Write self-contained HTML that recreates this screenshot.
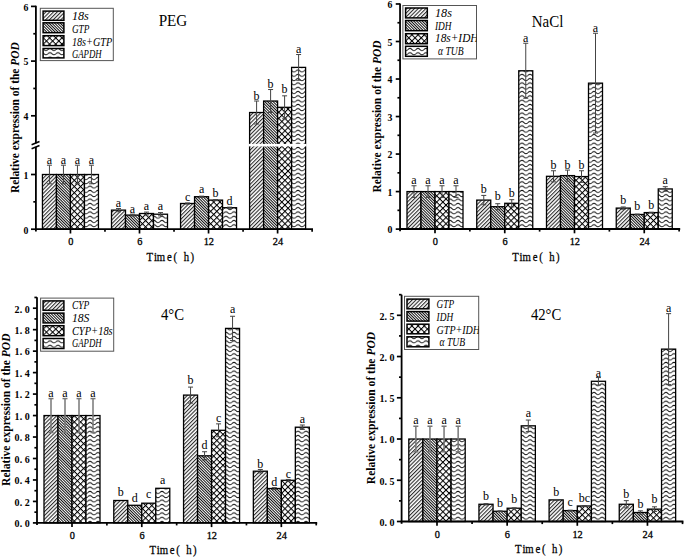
<!DOCTYPE html>
<html><head><meta charset="utf-8"><title>POD expression</title>
<style>
html,body{margin:0;padding:0;background:#fff;}
svg{display:block;font-family:"Liberation Serif", serif;}
</style></head>
<body>
<svg width="685" height="557" viewBox="0 0 685 557">

<defs>
<pattern id="p1" patternUnits="userSpaceOnUse" width="2.69" height="10" patternTransform="rotate(45)">
  <rect width="2.69" height="10" fill="#fff"/>
  <line x1="0.6" y1="0" x2="0.6" y2="10" stroke="#000" stroke-width="0.9"/>
</pattern>
<pattern id="p2" patternUnits="userSpaceOnUse" width="1.98" height="10" patternTransform="rotate(-45)">
  <rect width="1.98" height="10" fill="#fff"/>
  <line x1="0.5" y1="0" x2="0.5" y2="10" stroke="#000" stroke-width="0.95"/>
</pattern>
<pattern id="p3" patternUnits="userSpaceOnUse" width="4.38" height="4.38" patternTransform="rotate(45)">
  <rect width="4.38" height="4.38" fill="#fff"/>
  <line x1="0.5" y1="0" x2="0.5" y2="4.38" stroke="#000" stroke-width="1.05"/>
  <line x1="0" y1="0.5" x2="4.38" y2="0.5" stroke="#000" stroke-width="1.05"/>
</pattern>
<pattern id="p4" patternUnits="userSpaceOnUse" width="8" height="4.3">
  <rect width="8" height="4.3" fill="#fff"/>
  <path d="M0,2.2 C1.3,0.9 2.7,0.9 4,2.2 C5.3,3.5 6.7,3.5 8,2.2" fill="none" stroke="#111" stroke-width="0.95"/>
</pattern>
</defs>

<rect width="685" height="557" fill="#fff"/>
<rect x="42.45" y="174.5" width="14" height="54.7" fill="url(#p1)" stroke="#000" stroke-width="1.3" />
<rect x="56.45" y="174.5" width="14" height="54.7" fill="url(#p2)" stroke="#000" stroke-width="1.3" />
<rect x="70.45" y="174.5" width="14" height="54.7" fill="url(#p3)" stroke="#000" stroke-width="1.3" />
<rect x="84.45" y="174.5" width="14" height="54.7" fill="url(#p4)" stroke="#000" stroke-width="1.3" />
<line x1="49.45" y1="165.2" x2="49.45" y2="183.8" stroke="#444" stroke-width="1" />
<line x1="46.95" y1="165.2" x2="51.95" y2="165.2" stroke="#444" stroke-width="1" />
<line x1="46.95" y1="183.8" x2="51.95" y2="183.8" stroke="#444" stroke-width="1" />
<text x="49.45" y="164" font-size="12" text-anchor="middle" font-weight="normal" font-style="normal" fill="#000" >a</text>
<line x1="63.45" y1="165.2" x2="63.45" y2="183.8" stroke="#444" stroke-width="1" />
<line x1="60.95" y1="165.2" x2="65.95" y2="165.2" stroke="#444" stroke-width="1" />
<line x1="60.95" y1="183.8" x2="65.95" y2="183.8" stroke="#444" stroke-width="1" />
<text x="63.45" y="164" font-size="12" text-anchor="middle" font-weight="normal" font-style="normal" fill="#000" >a</text>
<line x1="77.45" y1="165.2" x2="77.45" y2="183.8" stroke="#444" stroke-width="1" />
<line x1="74.95" y1="165.2" x2="79.95" y2="165.2" stroke="#444" stroke-width="1" />
<line x1="74.95" y1="183.8" x2="79.95" y2="183.8" stroke="#444" stroke-width="1" />
<text x="77.45" y="164" font-size="12" text-anchor="middle" font-weight="normal" font-style="normal" fill="#000" >a</text>
<line x1="91.45" y1="165.2" x2="91.45" y2="183.8" stroke="#444" stroke-width="1" />
<line x1="88.95" y1="165.2" x2="93.95" y2="165.2" stroke="#444" stroke-width="1" />
<line x1="88.95" y1="183.8" x2="93.95" y2="183.8" stroke="#444" stroke-width="1" />
<text x="91.45" y="164" font-size="12" text-anchor="middle" font-weight="normal" font-style="normal" fill="#000" >a</text>
<rect x="111.5" y="210.11" width="14" height="19.09" fill="url(#p1)" stroke="#000" stroke-width="1.3" />
<rect x="125.5" y="215.09" width="14" height="14.11" fill="url(#p2)" stroke="#000" stroke-width="1.3" />
<rect x="139.5" y="213.5" width="14" height="15.7" fill="url(#p3)" stroke="#000" stroke-width="1.3" />
<rect x="153.5" y="214.21" width="14" height="14.99" fill="url(#p4)" stroke="#000" stroke-width="1.3" />
<line x1="118.5" y1="208.47" x2="118.5" y2="211.75" stroke="#444" stroke-width="1" />
<line x1="116" y1="208.47" x2="121" y2="208.47" stroke="#444" stroke-width="1" />
<line x1="116" y1="211.75" x2="121" y2="211.75" stroke="#444" stroke-width="1" />
<text x="118.5" y="206.5" font-size="12" text-anchor="middle" font-weight="normal" font-style="normal" fill="#000" >a</text>
<line x1="132.5" y1="214.16" x2="132.5" y2="216.02" stroke="#444" stroke-width="1" />
<line x1="130" y1="214.16" x2="135" y2="214.16" stroke="#444" stroke-width="1" />
<line x1="130" y1="216.02" x2="135" y2="216.02" stroke="#444" stroke-width="1" />
<text x="132.5" y="212.6" font-size="12" text-anchor="middle" font-weight="normal" font-style="normal" fill="#000" >a</text>
<line x1="146.5" y1="212.08" x2="146.5" y2="214.92" stroke="#444" stroke-width="1" />
<line x1="144" y1="212.08" x2="149" y2="212.08" stroke="#444" stroke-width="1" />
<line x1="144" y1="214.92" x2="149" y2="214.92" stroke="#444" stroke-width="1" />
<text x="146.5" y="209.8" font-size="12" text-anchor="middle" font-weight="normal" font-style="normal" fill="#000" >a</text>
<line x1="160.5" y1="212.57" x2="160.5" y2="215.85" stroke="#444" stroke-width="1" />
<line x1="158" y1="212.57" x2="163" y2="212.57" stroke="#444" stroke-width="1" />
<line x1="158" y1="215.85" x2="163" y2="215.85" stroke="#444" stroke-width="1" />
<text x="160.5" y="210.2" font-size="12" text-anchor="middle" font-weight="normal" font-style="normal" fill="#000" >a</text>
<rect x="180.55" y="203.49" width="14" height="25.71" fill="url(#p1)" stroke="#000" stroke-width="1.3" />
<rect x="194.55" y="196.71" width="14" height="32.49" fill="url(#p2)" stroke="#000" stroke-width="1.3" />
<rect x="208.55" y="200.1" width="14" height="29.1" fill="url(#p3)" stroke="#000" stroke-width="1.3" />
<rect x="222.55" y="207.7" width="14" height="21.5" fill="url(#p4)" stroke="#000" stroke-width="1.3" />
<line x1="187.55" y1="202.94" x2="187.55" y2="204.04" stroke="#444" stroke-width="1" />
<line x1="185.05" y1="202.94" x2="190.05" y2="202.94" stroke="#444" stroke-width="1" />
<line x1="185.05" y1="204.04" x2="190.05" y2="204.04" stroke="#444" stroke-width="1" />
<text x="187.55" y="200.7" font-size="12" text-anchor="middle" font-weight="normal" font-style="normal" fill="#000" >c</text>
<line x1="201.55" y1="196.16" x2="201.55" y2="197.26" stroke="#444" stroke-width="1" />
<line x1="199.05" y1="196.16" x2="204.05" y2="196.16" stroke="#444" stroke-width="1" />
<line x1="199.05" y1="197.26" x2="204.05" y2="197.26" stroke="#444" stroke-width="1" />
<text x="201.55" y="193.2" font-size="12" text-anchor="middle" font-weight="normal" font-style="normal" fill="#000" >a</text>
<line x1="215.55" y1="199.55" x2="215.55" y2="200.65" stroke="#444" stroke-width="1" />
<line x1="213.05" y1="199.55" x2="218.05" y2="199.55" stroke="#444" stroke-width="1" />
<line x1="213.05" y1="200.65" x2="218.05" y2="200.65" stroke="#444" stroke-width="1" />
<text x="215.55" y="197.4" font-size="12" text-anchor="middle" font-weight="normal" font-style="normal" fill="#000" >b</text>
<line x1="229.55" y1="207.16" x2="229.55" y2="208.25" stroke="#444" stroke-width="1" />
<line x1="227.05" y1="207.16" x2="232.05" y2="207.16" stroke="#444" stroke-width="1" />
<line x1="227.05" y1="208.25" x2="232.05" y2="208.25" stroke="#444" stroke-width="1" />
<text x="229.55" y="205.4" font-size="12" text-anchor="middle" font-weight="normal" font-style="normal" fill="#000" >d</text>
<rect x="249.6" y="112.52" width="14" height="116.68" fill="url(#p1)" stroke="#000" stroke-width="1.3" />
<rect x="263.6" y="101.03" width="14" height="128.17" fill="url(#p2)" stroke="#000" stroke-width="1.3" />
<rect x="277.6" y="107.32" width="14" height="121.88" fill="url(#p3)" stroke="#000" stroke-width="1.3" />
<rect x="291.6" y="67.39" width="14" height="161.81" fill="url(#p4)" stroke="#000" stroke-width="1.3" />
<rect x="248.6" y="143.9" width="16" height="2.5" fill="#fff" stroke="none" stroke-width="1" />
<rect x="262.6" y="143.9" width="16" height="2.5" fill="#fff" stroke="none" stroke-width="1" />
<rect x="276.6" y="143.9" width="16" height="2.5" fill="#fff" stroke="none" stroke-width="1" />
<rect x="290.6" y="143.9" width="16" height="2.5" fill="#fff" stroke="none" stroke-width="1" />
<line x1="256.6" y1="101.03" x2="256.6" y2="124.01" stroke="#444" stroke-width="1" />
<line x1="254.1" y1="101.03" x2="259.1" y2="101.03" stroke="#444" stroke-width="1" />
<line x1="254.1" y1="124.01" x2="259.1" y2="124.01" stroke="#444" stroke-width="1" />
<text x="256.6" y="99.6" font-size="12" text-anchor="middle" font-weight="normal" font-style="normal" fill="#000" >b</text>
<line x1="270.6" y1="89.54" x2="270.6" y2="112.52" stroke="#444" stroke-width="1" />
<line x1="268.1" y1="89.54" x2="273.1" y2="89.54" stroke="#444" stroke-width="1" />
<line x1="268.1" y1="112.52" x2="273.1" y2="112.52" stroke="#444" stroke-width="1" />
<text x="270.6" y="88.3" font-size="12" text-anchor="middle" font-weight="normal" font-style="normal" fill="#000" >b</text>
<line x1="284.6" y1="95.83" x2="284.6" y2="118.81" stroke="#444" stroke-width="1" />
<line x1="282.1" y1="95.83" x2="287.1" y2="95.83" stroke="#444" stroke-width="1" />
<line x1="282.1" y1="118.81" x2="287.1" y2="118.81" stroke="#444" stroke-width="1" />
<text x="284.6" y="93.2" font-size="12" text-anchor="middle" font-weight="normal" font-style="normal" fill="#000" >b</text>
<line x1="298.6" y1="54.54" x2="298.6" y2="80.25" stroke="#444" stroke-width="1" />
<line x1="296.1" y1="54.54" x2="301.1" y2="54.54" stroke="#444" stroke-width="1" />
<line x1="296.1" y1="80.25" x2="301.1" y2="80.25" stroke="#444" stroke-width="1" />
<text x="298.6" y="52.7" font-size="12" text-anchor="middle" font-weight="normal" font-style="normal" fill="#000" >a</text>
<line x1="35.9" y1="5.8" x2="35.9" y2="143.2" stroke="#000" stroke-width="1.8" />
<line x1="35.9" y1="147" x2="35.9" y2="231.5" stroke="#000" stroke-width="1.8" />
<line x1="31.6" y1="144.8" x2="39.5" y2="141.6" stroke="#000" stroke-width="1.6" />
<line x1="31.6" y1="148.7" x2="39.5" y2="145.5" stroke="#000" stroke-width="1.6" />
<line x1="31" y1="229.2" x2="35.9" y2="229.2" stroke="#000" stroke-width="1.7" />
<text x="28.4" y="233.5" font-size="9.8" text-anchor="end" font-weight="bold" font-style="normal" fill="#000" >0</text>
<line x1="31" y1="174.5" x2="35.9" y2="174.5" stroke="#000" stroke-width="1.7" />
<text x="28.4" y="178.8" font-size="9.8" text-anchor="end" font-weight="bold" font-style="normal" fill="#000" >1</text>
<line x1="31" y1="115.8" x2="35.9" y2="115.8" stroke="#000" stroke-width="1.7" />
<text x="28.4" y="120.1" font-size="9.8" text-anchor="end" font-weight="bold" font-style="normal" fill="#000" >4</text>
<line x1="31" y1="61.1" x2="35.9" y2="61.1" stroke="#000" stroke-width="1.7" />
<text x="28.4" y="65.4" font-size="9.8" text-anchor="end" font-weight="bold" font-style="normal" fill="#000" >5</text>
<line x1="31" y1="6.4" x2="35.9" y2="6.4" stroke="#000" stroke-width="1.7" />
<text x="28.4" y="10.7" font-size="9.8" text-anchor="end" font-weight="bold" font-style="normal" fill="#000" >6</text>
<line x1="33.3" y1="201.85" x2="35.9" y2="201.85" stroke="#000" stroke-width="1.7" />
<line x1="33.3" y1="88.45" x2="35.9" y2="88.45" stroke="#000" stroke-width="1.7" />
<line x1="33.3" y1="33.75" x2="35.9" y2="33.75" stroke="#000" stroke-width="1.7" />
<line x1="35" y1="229.2" x2="313" y2="229.2" stroke="#000" stroke-width="1.8" />
<line x1="70.45" y1="229.2" x2="70.45" y2="233.5" stroke="#000" stroke-width="1.7" />
<text x="70.75" y="244.9" font-size="10.3" text-anchor="middle" font-weight="normal" font-style="normal" fill="#000" stroke="#000" stroke-width="0.3">0</text>
<line x1="139.5" y1="229.2" x2="139.5" y2="233.5" stroke="#000" stroke-width="1.7" />
<text x="139.8" y="244.9" font-size="10.3" text-anchor="middle" font-weight="normal" font-style="normal" fill="#000" stroke="#000" stroke-width="0.3">6</text>
<line x1="208.55" y1="229.2" x2="208.55" y2="233.5" stroke="#000" stroke-width="1.7" />
<text x="208.85" y="244.9" font-size="10.3" text-anchor="middle" font-weight="normal" font-style="normal" fill="#000" stroke="#000" stroke-width="0.3">12</text>
<line x1="277.6" y1="229.2" x2="277.6" y2="233.5" stroke="#000" stroke-width="1.7" />
<text x="277.9" y="244.9" font-size="10.3" text-anchor="middle" font-weight="normal" font-style="normal" fill="#000" stroke="#000" stroke-width="0.3">24</text>
<line x1="104.97" y1="229.2" x2="104.97" y2="231.8" stroke="#000" stroke-width="1.7" />
<line x1="174.02" y1="229.2" x2="174.02" y2="231.8" stroke="#000" stroke-width="1.7" />
<line x1="243.07" y1="229.2" x2="243.07" y2="231.8" stroke="#000" stroke-width="1.7" />
<line x1="312.12" y1="229.2" x2="312.12" y2="231.8" stroke="#000" stroke-width="1.7" />
<text transform="scale(0.86,1)" x="174.13 180.7 187.15 197.03 203.9 216.69 223.6" y="260.6" font-size="12.5" text-anchor="middle" stroke="#000" stroke-width="0.25">Time(h)</text>
<text x="158.7" y="25.7" font-size="16" text-anchor="start" font-weight="normal" font-style="normal" fill="#000" textLength="28.6" lengthAdjust="spacingAndGlyphs" >PEG</text>
<rect x="40.3" y="8.3" width="73" height="52.3" fill="#fff" stroke="#555" stroke-width="1" />
<rect x="43.1" y="11.1" width="20.8" height="9.2" fill="url(#p1)" stroke="#000" stroke-width="1.5" />
<rect x="43.1" y="22.8" width="20.8" height="9.9" fill="url(#p2)" stroke="#000" stroke-width="1.5" />
<rect x="43.1" y="35.7" width="20.8" height="9.9" fill="url(#p3)" stroke="#000" stroke-width="1.5" />
<rect x="43.1" y="48.5" width="20.8" height="9.4" fill="url(#p4)" stroke="#000" stroke-width="1.5" />
<clipPath id="lc1"><rect x="40.3" y="8.3" width="73" height="52.3"/></clipPath>
<g clip-path="url(#lc1)">
<text x="71.9" y="19.8" font-size="11.8" text-anchor="start" font-weight="normal" font-style="italic" fill="#000" textLength="16.9" lengthAdjust="spacingAndGlyphs" >18s</text>
<text x="71.9" y="32.6" font-size="11.8" text-anchor="start" font-weight="normal" font-style="italic" fill="#000" textLength="17.5" lengthAdjust="spacingAndGlyphs" >GTP</text>
<text x="71.9" y="45.5" font-size="11.8" text-anchor="start" font-weight="normal" font-style="italic" fill="#000" textLength="40.3" lengthAdjust="spacingAndGlyphs" >18s+GTP</text>
<text x="71.9" y="57.7" font-size="11.8" text-anchor="start" font-weight="normal" font-style="italic" fill="#000" textLength="29.7" lengthAdjust="spacingAndGlyphs" >GAPDH</text>
</g>
<text transform="translate(19,193.1) rotate(-90)" x="0" y="0" font-size="12.4" font-weight="bold" textLength="150.9" lengthAdjust="spacingAndGlyphs">Relative expression of the <tspan font-style="italic">POD</tspan></text>
<rect x="407" y="191.58" width="14" height="37.42" fill="url(#p1)" stroke="#000" stroke-width="1.3" />
<rect x="421" y="191.58" width="14" height="37.42" fill="url(#p2)" stroke="#000" stroke-width="1.3" />
<rect x="435" y="191.58" width="14" height="37.42" fill="url(#p3)" stroke="#000" stroke-width="1.3" />
<rect x="449" y="191.58" width="14" height="37.42" fill="url(#p4)" stroke="#000" stroke-width="1.3" />
<line x1="414" y1="185.76" x2="414" y2="197.4" stroke="#444" stroke-width="1" />
<line x1="411.5" y1="185.76" x2="416.5" y2="185.76" stroke="#444" stroke-width="1" />
<line x1="411.5" y1="197.4" x2="416.5" y2="197.4" stroke="#444" stroke-width="1" />
<text x="414" y="184.2" font-size="12" text-anchor="middle" font-weight="normal" font-style="normal" fill="#000" >a</text>
<line x1="428" y1="185.76" x2="428" y2="197.4" stroke="#444" stroke-width="1" />
<line x1="425.5" y1="185.76" x2="430.5" y2="185.76" stroke="#444" stroke-width="1" />
<line x1="425.5" y1="197.4" x2="430.5" y2="197.4" stroke="#444" stroke-width="1" />
<text x="428" y="184.2" font-size="12" text-anchor="middle" font-weight="normal" font-style="normal" fill="#000" >a</text>
<line x1="442" y1="185.76" x2="442" y2="197.4" stroke="#444" stroke-width="1" />
<line x1="439.5" y1="185.76" x2="444.5" y2="185.76" stroke="#444" stroke-width="1" />
<line x1="439.5" y1="197.4" x2="444.5" y2="197.4" stroke="#444" stroke-width="1" />
<text x="442" y="184.2" font-size="12" text-anchor="middle" font-weight="normal" font-style="normal" fill="#000" >a</text>
<line x1="456" y1="185.76" x2="456" y2="197.4" stroke="#444" stroke-width="1" />
<line x1="453.5" y1="185.76" x2="458.5" y2="185.76" stroke="#444" stroke-width="1" />
<line x1="453.5" y1="197.4" x2="458.5" y2="197.4" stroke="#444" stroke-width="1" />
<text x="456" y="184.2" font-size="12" text-anchor="middle" font-weight="normal" font-style="normal" fill="#000" >a</text>
<rect x="476.75" y="200.1" width="14" height="28.9" fill="url(#p1)" stroke="#000" stroke-width="1.3" />
<rect x="490.75" y="206.7" width="14" height="22.3" fill="url(#p2)" stroke="#000" stroke-width="1.3" />
<rect x="504.75" y="203.29" width="14" height="25.71" fill="url(#p3)" stroke="#000" stroke-width="1.3" />
<rect x="518.75" y="70.77" width="14" height="158.23" fill="url(#p4)" stroke="#000" stroke-width="1.3" />
<line x1="483.75" y1="195.41" x2="483.75" y2="204.79" stroke="#444" stroke-width="1" />
<line x1="481.25" y1="195.41" x2="486.25" y2="195.41" stroke="#444" stroke-width="1" />
<line x1="481.25" y1="204.79" x2="486.25" y2="204.79" stroke="#444" stroke-width="1" />
<text x="483.75" y="193.4" font-size="12" text-anchor="middle" font-weight="normal" font-style="normal" fill="#000" >b</text>
<line x1="497.75" y1="203.7" x2="497.75" y2="209.7" stroke="#444" stroke-width="1" />
<line x1="495.25" y1="203.7" x2="500.25" y2="203.7" stroke="#444" stroke-width="1" />
<line x1="495.25" y1="209.7" x2="500.25" y2="209.7" stroke="#444" stroke-width="1" />
<text x="497.75" y="200.2" font-size="12" text-anchor="middle" font-weight="normal" font-style="normal" fill="#000" >b</text>
<line x1="511.75" y1="199.68" x2="511.75" y2="206.89" stroke="#444" stroke-width="1" />
<line x1="509.25" y1="199.68" x2="514.25" y2="199.68" stroke="#444" stroke-width="1" />
<line x1="509.25" y1="206.89" x2="514.25" y2="206.89" stroke="#444" stroke-width="1" />
<text x="511.75" y="196.8" font-size="12" text-anchor="middle" font-weight="normal" font-style="normal" fill="#000" >b</text>
<line x1="525.75" y1="43.26" x2="525.75" y2="98.27" stroke="#444" stroke-width="1" />
<line x1="523.25" y1="43.26" x2="528.25" y2="43.26" stroke="#444" stroke-width="1" />
<line x1="523.25" y1="98.27" x2="528.25" y2="98.27" stroke="#444" stroke-width="1" />
<text x="525.75" y="42.2" font-size="12" text-anchor="middle" font-weight="normal" font-style="normal" fill="#000" >a</text>
<rect x="546.5" y="176.31" width="14" height="52.69" fill="url(#p1)" stroke="#000" stroke-width="1.3" />
<rect x="560.5" y="175.6" width="14" height="53.4" fill="url(#p2)" stroke="#000" stroke-width="1.3" />
<rect x="574.5" y="176.57" width="14" height="52.43" fill="url(#p3)" stroke="#000" stroke-width="1.3" />
<rect x="588.5" y="83.15" width="14" height="145.85" fill="url(#p4)" stroke="#000" stroke-width="1.3" />
<line x1="553.5" y1="170.76" x2="553.5" y2="181.86" stroke="#444" stroke-width="1" />
<line x1="551" y1="170.76" x2="556" y2="170.76" stroke="#444" stroke-width="1" />
<line x1="551" y1="181.86" x2="556" y2="181.86" stroke="#444" stroke-width="1" />
<text x="553.5" y="169.2" font-size="12" text-anchor="middle" font-weight="normal" font-style="normal" fill="#000" >b</text>
<line x1="567.5" y1="170.08" x2="567.5" y2="181.11" stroke="#444" stroke-width="1" />
<line x1="565" y1="170.08" x2="570" y2="170.08" stroke="#444" stroke-width="1" />
<line x1="565" y1="181.11" x2="570" y2="181.11" stroke="#444" stroke-width="1" />
<text x="567.5" y="169.2" font-size="12" text-anchor="middle" font-weight="normal" font-style="normal" fill="#000" >b</text>
<line x1="581.5" y1="170.76" x2="581.5" y2="182.39" stroke="#444" stroke-width="1" />
<line x1="579" y1="170.76" x2="584" y2="170.76" stroke="#444" stroke-width="1" />
<line x1="579" y1="182.39" x2="584" y2="182.39" stroke="#444" stroke-width="1" />
<text x="581.5" y="169.2" font-size="12" text-anchor="middle" font-weight="normal" font-style="normal" fill="#000" >b</text>
<line x1="595.5" y1="33.25" x2="595.5" y2="133.05" stroke="#444" stroke-width="1" />
<line x1="593" y1="33.25" x2="598" y2="33.25" stroke="#444" stroke-width="1" />
<line x1="593" y1="133.05" x2="598" y2="133.05" stroke="#444" stroke-width="1" />
<text x="595.5" y="32.1" font-size="12" text-anchor="middle" font-weight="normal" font-style="normal" fill="#000" >a</text>
<rect x="616.25" y="208.09" width="14" height="20.91" fill="url(#p1)" stroke="#000" stroke-width="1.3" />
<rect x="630.25" y="214.47" width="14" height="14.53" fill="url(#p2)" stroke="#000" stroke-width="1.3" />
<rect x="644.25" y="212.59" width="14" height="16.41" fill="url(#p3)" stroke="#000" stroke-width="1.3" />
<rect x="658.25" y="188.95" width="14" height="40.05" fill="url(#p4)" stroke="#000" stroke-width="1.3" />
<line x1="623.25" y1="206.96" x2="623.25" y2="209.21" stroke="#444" stroke-width="1" />
<line x1="620.75" y1="206.96" x2="625.75" y2="206.96" stroke="#444" stroke-width="1" />
<line x1="620.75" y1="209.21" x2="625.75" y2="209.21" stroke="#444" stroke-width="1" />
<text x="623.25" y="203.6" font-size="12" text-anchor="middle" font-weight="normal" font-style="normal" fill="#000" >b</text>
<line x1="637.25" y1="214.09" x2="637.25" y2="214.84" stroke="#444" stroke-width="1" />
<line x1="634.75" y1="214.09" x2="639.75" y2="214.09" stroke="#444" stroke-width="1" />
<line x1="634.75" y1="214.84" x2="639.75" y2="214.84" stroke="#444" stroke-width="1" />
<text x="637.25" y="210" font-size="12" text-anchor="middle" font-weight="normal" font-style="normal" fill="#000" >b</text>
<line x1="651.25" y1="212.22" x2="651.25" y2="212.97" stroke="#444" stroke-width="1" />
<line x1="648.75" y1="212.22" x2="653.75" y2="212.22" stroke="#444" stroke-width="1" />
<line x1="648.75" y1="212.97" x2="653.75" y2="212.97" stroke="#444" stroke-width="1" />
<text x="651.25" y="209.3" font-size="12" text-anchor="middle" font-weight="normal" font-style="normal" fill="#000" >b</text>
<line x1="665.25" y1="186.7" x2="665.25" y2="191.2" stroke="#444" stroke-width="1" />
<line x1="662.75" y1="186.7" x2="667.75" y2="186.7" stroke="#444" stroke-width="1" />
<line x1="662.75" y1="191.2" x2="667.75" y2="191.2" stroke="#444" stroke-width="1" />
<text x="665.25" y="184.2" font-size="12" text-anchor="middle" font-weight="normal" font-style="normal" fill="#000" >a</text>
<line x1="400.05" y1="3.4" x2="400.05" y2="231.3" stroke="#000" stroke-width="1.8" />
<line x1="395.75" y1="229.1" x2="400.05" y2="229.1" stroke="#000" stroke-width="1.7" />
<text x="392.5" y="233.4" font-size="9.8" text-anchor="end" font-weight="bold" font-style="normal" fill="#000" >0</text>
<line x1="395.75" y1="191.58" x2="400.05" y2="191.58" stroke="#000" stroke-width="1.7" />
<text x="392.5" y="195.88" font-size="9.8" text-anchor="end" font-weight="bold" font-style="normal" fill="#000" >1</text>
<line x1="395.75" y1="154.06" x2="400.05" y2="154.06" stroke="#000" stroke-width="1.7" />
<text x="392.5" y="158.36" font-size="9.8" text-anchor="end" font-weight="bold" font-style="normal" fill="#000" >2</text>
<line x1="395.75" y1="116.54" x2="400.05" y2="116.54" stroke="#000" stroke-width="1.7" />
<text x="392.5" y="120.84" font-size="9.8" text-anchor="end" font-weight="bold" font-style="normal" fill="#000" >3</text>
<line x1="395.75" y1="79.02" x2="400.05" y2="79.02" stroke="#000" stroke-width="1.7" />
<text x="392.5" y="83.32" font-size="9.8" text-anchor="end" font-weight="bold" font-style="normal" fill="#000" >4</text>
<line x1="395.75" y1="41.5" x2="400.05" y2="41.5" stroke="#000" stroke-width="1.7" />
<text x="392.5" y="45.8" font-size="9.8" text-anchor="end" font-weight="bold" font-style="normal" fill="#000" >5</text>
<line x1="395.75" y1="3.98" x2="400.05" y2="3.98" stroke="#000" stroke-width="1.7" />
<text x="392.5" y="8.28" font-size="9.8" text-anchor="end" font-weight="bold" font-style="normal" fill="#000" >6</text>
<line x1="397.45" y1="210.34" x2="400.05" y2="210.34" stroke="#000" stroke-width="1.7" />
<line x1="397.45" y1="172.82" x2="400.05" y2="172.82" stroke="#000" stroke-width="1.7" />
<line x1="397.45" y1="135.3" x2="400.05" y2="135.3" stroke="#000" stroke-width="1.7" />
<line x1="397.45" y1="97.78" x2="400.05" y2="97.78" stroke="#000" stroke-width="1.7" />
<line x1="397.45" y1="60.26" x2="400.05" y2="60.26" stroke="#000" stroke-width="1.7" />
<line x1="397.45" y1="22.74" x2="400.05" y2="22.74" stroke="#000" stroke-width="1.7" />
<line x1="399.15" y1="229" x2="680.2" y2="229" stroke="#000" stroke-width="1.8" />
<line x1="435" y1="229" x2="435" y2="233.3" stroke="#000" stroke-width="1.7" />
<text x="435.3" y="244.9" font-size="10.3" text-anchor="middle" font-weight="normal" font-style="normal" fill="#000" stroke="#000" stroke-width="0.3">0</text>
<line x1="504.75" y1="229" x2="504.75" y2="233.3" stroke="#000" stroke-width="1.7" />
<text x="505.05" y="244.9" font-size="10.3" text-anchor="middle" font-weight="normal" font-style="normal" fill="#000" stroke="#000" stroke-width="0.3">6</text>
<line x1="574.5" y1="229" x2="574.5" y2="233.3" stroke="#000" stroke-width="1.7" />
<text x="574.8" y="244.9" font-size="10.3" text-anchor="middle" font-weight="normal" font-style="normal" fill="#000" stroke="#000" stroke-width="0.3">12</text>
<line x1="644.25" y1="229" x2="644.25" y2="233.3" stroke="#000" stroke-width="1.7" />
<text x="644.55" y="244.9" font-size="10.3" text-anchor="middle" font-weight="normal" font-style="normal" fill="#000" stroke="#000" stroke-width="0.3">24</text>
<line x1="469.88" y1="229" x2="469.88" y2="231.6" stroke="#000" stroke-width="1.7" />
<line x1="539.62" y1="229" x2="539.62" y2="231.6" stroke="#000" stroke-width="1.7" />
<line x1="609.38" y1="229" x2="609.38" y2="231.6" stroke="#000" stroke-width="1.7" />
<line x1="679.12" y1="229" x2="679.12" y2="231.6" stroke="#000" stroke-width="1.7" />
<text transform="scale(0.86,1)" x="599.35 605.91 612.35 622.21 629.06 641.82 648.73" y="260.6" font-size="12.5" text-anchor="middle" stroke="#000" stroke-width="0.25">Time(h)</text>
<text x="531.8" y="26.7" font-size="16" text-anchor="start" font-weight="normal" font-style="normal" fill="#000" textLength="31.6" lengthAdjust="spacingAndGlyphs" >NaCl</text>
<rect x="402.9" y="5.5" width="73.6" height="53.4" fill="#fff" stroke="#555" stroke-width="1" />
<rect x="405.6" y="8" width="21.7" height="9.9" fill="url(#p1)" stroke="#000" stroke-width="1.5" />
<rect x="405.6" y="20.5" width="21.7" height="10.2" fill="url(#p2)" stroke="#000" stroke-width="1.5" />
<rect x="405.6" y="33.7" width="21.7" height="10" fill="url(#p3)" stroke="#000" stroke-width="1.5" />
<rect x="405.6" y="46.3" width="21.7" height="10" fill="url(#p4)" stroke="#000" stroke-width="1.5" />
<clipPath id="lc2"><rect x="402.9" y="5.5" width="73.6" height="53.4"/></clipPath>
<g clip-path="url(#lc2)">
<text x="435" y="17.2" font-size="11.8" text-anchor="start" font-weight="normal" font-style="italic" fill="#000" textLength="16.9" lengthAdjust="spacingAndGlyphs" >18s</text>
<text x="435" y="30" font-size="11.8" text-anchor="start" font-weight="normal" font-style="italic" fill="#000" textLength="16.5" lengthAdjust="spacingAndGlyphs" >IDH</text>
<text x="435" y="42.3" font-size="11.8" text-anchor="start" font-weight="normal" font-style="italic" fill="#000" textLength="43.5" lengthAdjust="spacingAndGlyphs" >18s+IDH</text>
<text x="438" y="54.6" font-size="11.8" text-anchor="start" font-weight="normal" font-style="italic" fill="#000" textLength="25.5" lengthAdjust="spacingAndGlyphs" >&#945; TUB</text>
</g>
<text transform="translate(380.5,192.6) rotate(-90)" x="0" y="0" font-size="12.4" font-weight="bold" textLength="152.2" lengthAdjust="spacingAndGlyphs">Relative expression of the <tspan font-style="italic">POD</tspan></text>
<rect x="44" y="415.55" width="14" height="107.25" fill="url(#p1)" stroke="#000" stroke-width="1.3" />
<rect x="58" y="415.55" width="14" height="107.25" fill="url(#p2)" stroke="#000" stroke-width="1.3" />
<rect x="72" y="415.55" width="14" height="107.25" fill="url(#p3)" stroke="#000" stroke-width="1.3" />
<rect x="86" y="415.55" width="14" height="107.25" fill="url(#p4)" stroke="#000" stroke-width="1.3" />
<line x1="51" y1="398.59" x2="51" y2="432.51" stroke="#777" stroke-width="1.5" />
<line x1="48.5" y1="398.59" x2="53.5" y2="398.59" stroke="#777" stroke-width="1.5" />
<line x1="48.5" y1="432.51" x2="53.5" y2="432.51" stroke="#777" stroke-width="1.5" />
<text x="51" y="396.5" font-size="12" text-anchor="middle" font-weight="normal" font-style="normal" fill="#000" >a</text>
<line x1="65" y1="398.59" x2="65" y2="432.51" stroke="#777" stroke-width="1.5" />
<line x1="62.5" y1="398.59" x2="67.5" y2="398.59" stroke="#777" stroke-width="1.5" />
<line x1="62.5" y1="432.51" x2="67.5" y2="432.51" stroke="#777" stroke-width="1.5" />
<text x="65" y="396.5" font-size="12" text-anchor="middle" font-weight="normal" font-style="normal" fill="#000" >a</text>
<line x1="79" y1="398.59" x2="79" y2="432.51" stroke="#777" stroke-width="1.5" />
<line x1="76.5" y1="398.59" x2="81.5" y2="398.59" stroke="#777" stroke-width="1.5" />
<line x1="76.5" y1="432.51" x2="81.5" y2="432.51" stroke="#777" stroke-width="1.5" />
<text x="79" y="396.5" font-size="12" text-anchor="middle" font-weight="normal" font-style="normal" fill="#000" >a</text>
<line x1="93" y1="398.59" x2="93" y2="432.51" stroke="#777" stroke-width="1.5" />
<line x1="90.5" y1="398.59" x2="95.5" y2="398.59" stroke="#777" stroke-width="1.5" />
<line x1="90.5" y1="432.51" x2="95.5" y2="432.51" stroke="#777" stroke-width="1.5" />
<text x="93" y="396.5" font-size="12" text-anchor="middle" font-weight="normal" font-style="normal" fill="#000" >a</text>
<rect x="113.78" y="500.5" width="14" height="22.3" fill="url(#p1)" stroke="#000" stroke-width="1.3" />
<rect x="127.78" y="505.29" width="14" height="17.51" fill="url(#p2)" stroke="#000" stroke-width="1.3" />
<rect x="141.78" y="503.2" width="14" height="19.6" fill="url(#p3)" stroke="#000" stroke-width="1.3" />
<rect x="155.78" y="488.3" width="14" height="34.5" fill="url(#p4)" stroke="#000" stroke-width="1.3" />
<text x="120.78" y="496.2" font-size="12" text-anchor="middle" font-weight="normal" font-style="normal" fill="#000" >b</text>
<text x="134.78" y="501.6" font-size="12" text-anchor="middle" font-weight="normal" font-style="normal" fill="#000" >d</text>
<text x="148.78" y="498.3" font-size="12" text-anchor="middle" font-weight="normal" font-style="normal" fill="#000" >c</text>
<text x="162.78" y="483.8" font-size="12" text-anchor="middle" font-weight="normal" font-style="normal" fill="#000" >a</text>
<rect x="183.56" y="395.1" width="14" height="127.7" fill="url(#p1)" stroke="#000" stroke-width="1.3" />
<rect x="197.56" y="455.81" width="14" height="66.99" fill="url(#p2)" stroke="#000" stroke-width="1.3" />
<rect x="211.56" y="430.3" width="14" height="92.5" fill="url(#p3)" stroke="#000" stroke-width="1.3" />
<rect x="225.56" y="328.4" width="14" height="194.4" fill="url(#p4)" stroke="#000" stroke-width="1.3" />
<line x1="190.56" y1="387.1" x2="190.56" y2="403.1" stroke="#444" stroke-width="1" />
<line x1="188.06" y1="387.1" x2="193.06" y2="387.1" stroke="#444" stroke-width="1" />
<line x1="188.06" y1="403.1" x2="193.06" y2="403.1" stroke="#444" stroke-width="1" />
<text x="190.56" y="384.2" font-size="12" text-anchor="middle" font-weight="normal" font-style="normal" fill="#000" >b</text>
<line x1="204.56" y1="451.73" x2="204.56" y2="459.89" stroke="#444" stroke-width="1" />
<line x1="202.06" y1="451.73" x2="207.06" y2="451.73" stroke="#444" stroke-width="1" />
<line x1="202.06" y1="459.89" x2="207.06" y2="459.89" stroke="#444" stroke-width="1" />
<text x="204.56" y="448.8" font-size="12" text-anchor="middle" font-weight="normal" font-style="normal" fill="#000" >d</text>
<line x1="218.56" y1="423.86" x2="218.56" y2="436.74" stroke="#444" stroke-width="1" />
<line x1="216.06" y1="423.86" x2="221.06" y2="423.86" stroke="#444" stroke-width="1" />
<line x1="216.06" y1="436.74" x2="221.06" y2="436.74" stroke="#444" stroke-width="1" />
<text x="218.56" y="421.9" font-size="12" text-anchor="middle" font-weight="normal" font-style="normal" fill="#000" >c</text>
<line x1="232.56" y1="316.27" x2="232.56" y2="340.53" stroke="#444" stroke-width="1" />
<line x1="230.06" y1="316.27" x2="235.06" y2="316.27" stroke="#444" stroke-width="1" />
<line x1="230.06" y1="340.53" x2="235.06" y2="340.53" stroke="#444" stroke-width="1" />
<text x="232.56" y="312.6" font-size="12" text-anchor="middle" font-weight="normal" font-style="normal" fill="#000" >a</text>
<rect x="253.34" y="471.2" width="14" height="51.6" fill="url(#p1)" stroke="#000" stroke-width="1.3" />
<rect x="267.34" y="488.51" width="14" height="34.29" fill="url(#p2)" stroke="#000" stroke-width="1.3" />
<rect x="281.34" y="480.3" width="14" height="42.5" fill="url(#p3)" stroke="#000" stroke-width="1.3" />
<rect x="295.34" y="427.2" width="14" height="95.6" fill="url(#p4)" stroke="#000" stroke-width="1.3" />
<line x1="260.34" y1="469.48" x2="260.34" y2="472.92" stroke="#444" stroke-width="1" />
<line x1="257.84" y1="469.48" x2="262.84" y2="469.48" stroke="#444" stroke-width="1" />
<line x1="257.84" y1="472.92" x2="262.84" y2="472.92" stroke="#444" stroke-width="1" />
<text x="260.34" y="467.9" font-size="12" text-anchor="middle" font-weight="normal" font-style="normal" fill="#000" >b</text>
<line x1="274.34" y1="487.65" x2="274.34" y2="489.36" stroke="#444" stroke-width="1" />
<line x1="271.84" y1="487.65" x2="276.84" y2="487.65" stroke="#444" stroke-width="1" />
<line x1="271.84" y1="489.36" x2="276.84" y2="489.36" stroke="#444" stroke-width="1" />
<text x="274.34" y="485.8" font-size="12" text-anchor="middle" font-weight="normal" font-style="normal" fill="#000" >d</text>
<line x1="288.34" y1="479.44" x2="288.34" y2="481.16" stroke="#444" stroke-width="1" />
<line x1="285.84" y1="479.44" x2="290.84" y2="479.44" stroke="#444" stroke-width="1" />
<line x1="285.84" y1="481.16" x2="290.84" y2="481.16" stroke="#444" stroke-width="1" />
<text x="288.34" y="477.9" font-size="12" text-anchor="middle" font-weight="normal" font-style="normal" fill="#000" >c</text>
<line x1="302.34" y1="425" x2="302.34" y2="429.4" stroke="#444" stroke-width="1" />
<line x1="299.84" y1="425" x2="304.84" y2="425" stroke="#444" stroke-width="1" />
<line x1="299.84" y1="429.4" x2="304.84" y2="429.4" stroke="#444" stroke-width="1" />
<text x="302.34" y="423.1" font-size="12" text-anchor="middle" font-weight="normal" font-style="normal" fill="#000" >a</text>
<line x1="37" y1="297.2" x2="37" y2="525.1" stroke="#000" stroke-width="1.8" />
<line x1="32.9" y1="522.9" x2="37" y2="522.9" stroke="#000" stroke-width="1.7" />
<text x="17.1 20.9 27.15" y="527.2" font-size="10" text-anchor="middle" font-weight="bold">0.0</text>
<line x1="32.9" y1="501.43" x2="37" y2="501.43" stroke="#000" stroke-width="1.7" />
<text x="17.1 20.9 27.15" y="505.73" font-size="10" text-anchor="middle" font-weight="bold">0.2</text>
<line x1="32.9" y1="479.96" x2="37" y2="479.96" stroke="#000" stroke-width="1.7" />
<text x="17.1 20.9 27.15" y="484.26" font-size="10" text-anchor="middle" font-weight="bold">0.4</text>
<line x1="32.9" y1="458.49" x2="37" y2="458.49" stroke="#000" stroke-width="1.7" />
<text x="17.1 20.9 27.15" y="462.79" font-size="10" text-anchor="middle" font-weight="bold">0.6</text>
<line x1="32.9" y1="437.02" x2="37" y2="437.02" stroke="#000" stroke-width="1.7" />
<text x="17.1 20.9 27.15" y="441.32" font-size="10" text-anchor="middle" font-weight="bold">0.8</text>
<line x1="32.9" y1="415.55" x2="37" y2="415.55" stroke="#000" stroke-width="1.7" />
<text x="17.1 20.9 27.15" y="419.85" font-size="10" text-anchor="middle" font-weight="bold">1.0</text>
<line x1="32.9" y1="394.08" x2="37" y2="394.08" stroke="#000" stroke-width="1.7" />
<text x="17.1 20.9 27.15" y="398.38" font-size="10" text-anchor="middle" font-weight="bold">1.2</text>
<line x1="32.9" y1="372.61" x2="37" y2="372.61" stroke="#000" stroke-width="1.7" />
<text x="17.1 20.9 27.15" y="376.91" font-size="10" text-anchor="middle" font-weight="bold">1.4</text>
<line x1="32.9" y1="351.14" x2="37" y2="351.14" stroke="#000" stroke-width="1.7" />
<text x="17.1 20.9 27.15" y="355.44" font-size="10" text-anchor="middle" font-weight="bold">1.6</text>
<line x1="32.9" y1="329.67" x2="37" y2="329.67" stroke="#000" stroke-width="1.7" />
<text x="17.1 20.9 27.15" y="333.97" font-size="10" text-anchor="middle" font-weight="bold">1.8</text>
<line x1="32.9" y1="308.2" x2="37" y2="308.2" stroke="#000" stroke-width="1.7" />
<text x="17.1 20.9 27.15" y="312.5" font-size="10" text-anchor="middle" font-weight="bold">2.0</text>
<line x1="34.4" y1="512.16" x2="37" y2="512.16" stroke="#000" stroke-width="1.7" />
<line x1="34.4" y1="490.69" x2="37" y2="490.69" stroke="#000" stroke-width="1.7" />
<line x1="34.4" y1="469.22" x2="37" y2="469.22" stroke="#000" stroke-width="1.7" />
<line x1="34.4" y1="447.75" x2="37" y2="447.75" stroke="#000" stroke-width="1.7" />
<line x1="34.4" y1="426.28" x2="37" y2="426.28" stroke="#000" stroke-width="1.7" />
<line x1="34.4" y1="404.81" x2="37" y2="404.81" stroke="#000" stroke-width="1.7" />
<line x1="34.4" y1="383.34" x2="37" y2="383.34" stroke="#000" stroke-width="1.7" />
<line x1="34.4" y1="361.88" x2="37" y2="361.88" stroke="#000" stroke-width="1.7" />
<line x1="34.4" y1="340.4" x2="37" y2="340.4" stroke="#000" stroke-width="1.7" />
<line x1="34.4" y1="318.93" x2="37" y2="318.93" stroke="#000" stroke-width="1.7" />
<line x1="34.4" y1="297.46" x2="37" y2="297.46" stroke="#000" stroke-width="1.7" />
<line x1="36.1" y1="522.8" x2="317.2" y2="522.8" stroke="#000" stroke-width="1.8" />
<line x1="72" y1="522.8" x2="72" y2="527.1" stroke="#000" stroke-width="1.7" />
<text x="72.3" y="538.5" font-size="10.3" text-anchor="middle" font-weight="normal" font-style="normal" fill="#000" stroke="#000" stroke-width="0.3">0</text>
<line x1="141.78" y1="522.8" x2="141.78" y2="527.1" stroke="#000" stroke-width="1.7" />
<text x="142.08" y="538.5" font-size="10.3" text-anchor="middle" font-weight="normal" font-style="normal" fill="#000" stroke="#000" stroke-width="0.3">6</text>
<line x1="211.56" y1="522.8" x2="211.56" y2="527.1" stroke="#000" stroke-width="1.7" />
<text x="211.86" y="538.5" font-size="10.3" text-anchor="middle" font-weight="normal" font-style="normal" fill="#000" stroke="#000" stroke-width="0.3">12</text>
<line x1="281.34" y1="522.8" x2="281.34" y2="527.1" stroke="#000" stroke-width="1.7" />
<text x="281.64" y="538.5" font-size="10.3" text-anchor="middle" font-weight="normal" font-style="normal" fill="#000" stroke="#000" stroke-width="0.3">24</text>
<line x1="106.89" y1="522.8" x2="106.89" y2="525.4" stroke="#000" stroke-width="1.7" />
<line x1="176.67" y1="522.8" x2="176.67" y2="525.4" stroke="#000" stroke-width="1.7" />
<line x1="246.45" y1="522.8" x2="246.45" y2="525.4" stroke="#000" stroke-width="1.7" />
<line x1="316.23" y1="522.8" x2="316.23" y2="525.4" stroke="#000" stroke-width="1.7" />
<text transform="scale(0.86,1)" x="177.58 184.1 190.5 200.3 207.1 219.79 226.65" y="553.6" font-size="12.5" text-anchor="middle" stroke="#000" stroke-width="0.25">Time(h)</text>
<text x="160.9" y="319.5" font-size="16" text-anchor="start" font-weight="normal" font-style="normal" fill="#000" textLength="23.1" lengthAdjust="spacingAndGlyphs" >4&#176;C</text>
<rect x="40.6" y="298.1" width="73.1" height="53.1" fill="#fff" stroke="#555" stroke-width="1" />
<rect x="43.1" y="300.9" width="20.8" height="9.4" fill="url(#p1)" stroke="#000" stroke-width="1.5" />
<rect x="43.1" y="313.1" width="20.8" height="9.8" fill="url(#p2)" stroke="#000" stroke-width="1.5" />
<rect x="43.1" y="325.7" width="20.8" height="10" fill="url(#p3)" stroke="#000" stroke-width="1.5" />
<rect x="43.1" y="338.5" width="20.8" height="10" fill="url(#p4)" stroke="#000" stroke-width="1.5" />
<clipPath id="lc3"><rect x="40.6" y="298.1" width="73.1" height="53.1"/></clipPath>
<g clip-path="url(#lc3)">
<text x="71.9" y="309.2" font-size="11.8" text-anchor="start" font-weight="normal" font-style="italic" fill="#000" textLength="17.5" lengthAdjust="spacingAndGlyphs" >CYP</text>
<text x="71.9" y="322" font-size="11.8" text-anchor="start" font-weight="normal" font-style="italic" fill="#000" textLength="17.5" lengthAdjust="spacingAndGlyphs" >18S</text>
<text x="71.9" y="334.9" font-size="11.8" text-anchor="start" font-weight="normal" font-style="italic" fill="#000" textLength="40.8" lengthAdjust="spacingAndGlyphs" >CYP+18s</text>
<text x="71.9" y="347.1" font-size="11.8" text-anchor="start" font-weight="normal" font-style="italic" fill="#000" textLength="29.7" lengthAdjust="spacingAndGlyphs" >GAPDH</text>
</g>
<text transform="translate(10.3,485.9) rotate(-90)" x="0" y="0" font-size="12.4" font-weight="bold" textLength="152.4" lengthAdjust="spacingAndGlyphs">Relative expression of the <tspan font-style="italic">POD</tspan></text>
<rect x="408.8" y="439.02" width="14.1" height="82.48" fill="url(#p1)" stroke="#000" stroke-width="1.3" />
<rect x="422.9" y="439.02" width="14.1" height="82.48" fill="url(#p2)" stroke="#000" stroke-width="1.3" />
<rect x="437" y="439.02" width="14.1" height="82.48" fill="url(#p3)" stroke="#000" stroke-width="1.3" />
<rect x="451.1" y="439.02" width="14.1" height="82.48" fill="url(#p4)" stroke="#000" stroke-width="1.3" />
<line x1="415.85" y1="426.24" x2="415.85" y2="451.8" stroke="#777" stroke-width="1.5" />
<line x1="413.35" y1="426.24" x2="418.35" y2="426.24" stroke="#777" stroke-width="1.5" />
<line x1="413.35" y1="451.8" x2="418.35" y2="451.8" stroke="#777" stroke-width="1.5" />
<text x="415.85" y="423.8" font-size="12" text-anchor="middle" font-weight="normal" font-style="normal" fill="#000" >a</text>
<line x1="429.95" y1="426.24" x2="429.95" y2="451.8" stroke="#777" stroke-width="1.5" />
<line x1="427.45" y1="426.24" x2="432.45" y2="426.24" stroke="#777" stroke-width="1.5" />
<line x1="427.45" y1="451.8" x2="432.45" y2="451.8" stroke="#777" stroke-width="1.5" />
<text x="429.95" y="423.8" font-size="12" text-anchor="middle" font-weight="normal" font-style="normal" fill="#000" >a</text>
<line x1="444.05" y1="426.24" x2="444.05" y2="451.8" stroke="#777" stroke-width="1.5" />
<line x1="441.55" y1="426.24" x2="446.55" y2="426.24" stroke="#777" stroke-width="1.5" />
<line x1="441.55" y1="451.8" x2="446.55" y2="451.8" stroke="#777" stroke-width="1.5" />
<text x="444.05" y="423.8" font-size="12" text-anchor="middle" font-weight="normal" font-style="normal" fill="#000" >a</text>
<line x1="458.15" y1="426.24" x2="458.15" y2="451.8" stroke="#777" stroke-width="1.5" />
<line x1="455.65" y1="426.24" x2="460.65" y2="426.24" stroke="#777" stroke-width="1.5" />
<line x1="455.65" y1="451.8" x2="460.65" y2="451.8" stroke="#777" stroke-width="1.5" />
<text x="458.15" y="423.8" font-size="12" text-anchor="middle" font-weight="normal" font-style="normal" fill="#000" >a</text>
<rect x="478.95" y="504.26" width="14.1" height="17.24" fill="url(#p1)" stroke="#000" stroke-width="1.3" />
<rect x="493.05" y="511.27" width="14.1" height="10.23" fill="url(#p2)" stroke="#000" stroke-width="1.3" />
<rect x="507.15" y="508.22" width="14.1" height="13.28" fill="url(#p3)" stroke="#000" stroke-width="1.3" />
<rect x="521.25" y="425.82" width="14.1" height="95.68" fill="url(#p4)" stroke="#000" stroke-width="1.3" />
<line x1="486" y1="503.6" x2="486" y2="504.92" stroke="#444" stroke-width="1" />
<line x1="483.5" y1="503.6" x2="488.5" y2="503.6" stroke="#444" stroke-width="1" />
<line x1="483.5" y1="504.92" x2="488.5" y2="504.92" stroke="#444" stroke-width="1" />
<text x="486" y="499.5" font-size="12" text-anchor="middle" font-weight="normal" font-style="normal" fill="#000" >b</text>
<line x1="500.1" y1="510.86" x2="500.1" y2="511.68" stroke="#444" stroke-width="1" />
<line x1="497.6" y1="510.86" x2="502.6" y2="510.86" stroke="#444" stroke-width="1" />
<line x1="497.6" y1="511.68" x2="502.6" y2="511.68" stroke="#444" stroke-width="1" />
<text x="500.1" y="506.8" font-size="12" text-anchor="middle" font-weight="normal" font-style="normal" fill="#000" >b</text>
<line x1="514.2" y1="507.81" x2="514.2" y2="508.63" stroke="#444" stroke-width="1" />
<line x1="511.7" y1="507.81" x2="516.7" y2="507.81" stroke="#444" stroke-width="1" />
<line x1="511.7" y1="508.63" x2="516.7" y2="508.63" stroke="#444" stroke-width="1" />
<text x="514.2" y="503.4" font-size="12" text-anchor="middle" font-weight="normal" font-style="normal" fill="#000" >b</text>
<line x1="528.3" y1="420.05" x2="528.3" y2="431.6" stroke="#444" stroke-width="1" />
<line x1="525.8" y1="420.05" x2="530.8" y2="420.05" stroke="#444" stroke-width="1" />
<line x1="525.8" y1="431.6" x2="530.8" y2="431.6" stroke="#444" stroke-width="1" />
<text x="528.3" y="417.3" font-size="12" text-anchor="middle" font-weight="normal" font-style="normal" fill="#000" >a</text>
<rect x="549.1" y="499.89" width="14.1" height="21.61" fill="url(#p1)" stroke="#000" stroke-width="1.3" />
<rect x="563.2" y="510.61" width="14.1" height="10.89" fill="url(#p2)" stroke="#000" stroke-width="1.3" />
<rect x="577.3" y="505.99" width="14.1" height="15.51" fill="url(#p3)" stroke="#000" stroke-width="1.3" />
<rect x="591.4" y="381.28" width="14.1" height="140.22" fill="url(#p4)" stroke="#000" stroke-width="1.3" />
<line x1="556.15" y1="499.48" x2="556.15" y2="500.3" stroke="#444" stroke-width="1" />
<line x1="553.65" y1="499.48" x2="558.65" y2="499.48" stroke="#444" stroke-width="1" />
<line x1="553.65" y1="500.3" x2="558.65" y2="500.3" stroke="#444" stroke-width="1" />
<text x="556.15" y="495.7" font-size="12" text-anchor="middle" font-weight="normal" font-style="normal" fill="#000" >b</text>
<line x1="570.25" y1="510.2" x2="570.25" y2="511.03" stroke="#444" stroke-width="1" />
<line x1="567.75" y1="510.2" x2="572.75" y2="510.2" stroke="#444" stroke-width="1" />
<line x1="567.75" y1="511.03" x2="572.75" y2="511.03" stroke="#444" stroke-width="1" />
<text x="570.25" y="506.3" font-size="12" text-anchor="middle" font-weight="normal" font-style="normal" fill="#000" >c</text>
<line x1="584.35" y1="505.58" x2="584.35" y2="506.41" stroke="#444" stroke-width="1" />
<line x1="581.85" y1="505.58" x2="586.85" y2="505.58" stroke="#444" stroke-width="1" />
<line x1="581.85" y1="506.41" x2="586.85" y2="506.41" stroke="#444" stroke-width="1" />
<text x="584.35" y="502.4" font-size="12" text-anchor="middle" font-weight="normal" font-style="normal" fill="#000" >bc</text>
<line x1="598.45" y1="377.57" x2="598.45" y2="385" stroke="#444" stroke-width="1" />
<line x1="595.95" y1="377.57" x2="600.95" y2="377.57" stroke="#444" stroke-width="1" />
<line x1="595.95" y1="385" x2="600.95" y2="385" stroke="#444" stroke-width="1" />
<text x="598.45" y="376.6" font-size="12" text-anchor="middle" font-weight="normal" font-style="normal" fill="#000" >a</text>
<rect x="619.25" y="504.26" width="14.1" height="17.24" fill="url(#p1)" stroke="#000" stroke-width="1.3" />
<rect x="633.35" y="512.51" width="14.1" height="8.99" fill="url(#p2)" stroke="#000" stroke-width="1.3" />
<rect x="647.45" y="509.13" width="14.1" height="12.37" fill="url(#p3)" stroke="#000" stroke-width="1.3" />
<rect x="661.55" y="349.12" width="14.1" height="172.38" fill="url(#p4)" stroke="#000" stroke-width="1.3" />
<line x1="626.3" y1="500.63" x2="626.3" y2="507.89" stroke="#444" stroke-width="1" />
<line x1="623.8" y1="500.63" x2="628.8" y2="500.63" stroke="#444" stroke-width="1" />
<line x1="623.8" y1="507.89" x2="628.8" y2="507.89" stroke="#444" stroke-width="1" />
<text x="626.3" y="498.2" font-size="12" text-anchor="middle" font-weight="normal" font-style="normal" fill="#000" >b</text>
<line x1="640.4" y1="510.86" x2="640.4" y2="514.16" stroke="#444" stroke-width="1" />
<line x1="637.9" y1="510.86" x2="642.9" y2="510.86" stroke="#444" stroke-width="1" />
<line x1="637.9" y1="514.16" x2="642.9" y2="514.16" stroke="#444" stroke-width="1" />
<text x="640.4" y="507.9" font-size="12" text-anchor="middle" font-weight="normal" font-style="normal" fill="#000" >b</text>
<line x1="654.5" y1="506.82" x2="654.5" y2="511.44" stroke="#444" stroke-width="1" />
<line x1="652" y1="506.82" x2="657" y2="506.82" stroke="#444" stroke-width="1" />
<line x1="652" y1="511.44" x2="657" y2="511.44" stroke="#444" stroke-width="1" />
<text x="654.5" y="503.3" font-size="12" text-anchor="middle" font-weight="normal" font-style="normal" fill="#000" >b</text>
<line x1="668.6" y1="313.65" x2="668.6" y2="384.58" stroke="#444" stroke-width="1" />
<line x1="666.1" y1="313.65" x2="671.1" y2="313.65" stroke="#444" stroke-width="1" />
<line x1="666.1" y1="384.58" x2="671.1" y2="384.58" stroke="#444" stroke-width="1" />
<text x="668.6" y="311.6" font-size="12" text-anchor="middle" font-weight="normal" font-style="normal" fill="#000" >a</text>
<line x1="401.6" y1="294.7" x2="401.6" y2="523.8" stroke="#000" stroke-width="1.8" />
<line x1="396.9" y1="521.5" x2="401.6" y2="521.5" stroke="#000" stroke-width="1.7" />
<text x="382 385.8 392.05" y="525.8" font-size="10" text-anchor="middle" font-weight="bold">0.0</text>
<line x1="396.9" y1="480.26" x2="401.6" y2="480.26" stroke="#000" stroke-width="1.7" />
<text x="382 385.8 392.05" y="484.56" font-size="10" text-anchor="middle" font-weight="bold">0.5</text>
<line x1="396.9" y1="439.02" x2="401.6" y2="439.02" stroke="#000" stroke-width="1.7" />
<text x="382 385.8 392.05" y="443.32" font-size="10" text-anchor="middle" font-weight="bold">1.0</text>
<line x1="396.9" y1="397.78" x2="401.6" y2="397.78" stroke="#000" stroke-width="1.7" />
<text x="382 385.8 392.05" y="402.08" font-size="10" text-anchor="middle" font-weight="bold">1.5</text>
<line x1="396.9" y1="356.54" x2="401.6" y2="356.54" stroke="#000" stroke-width="1.7" />
<text x="382 385.8 392.05" y="360.84" font-size="10" text-anchor="middle" font-weight="bold">2.0</text>
<line x1="396.9" y1="315.3" x2="401.6" y2="315.3" stroke="#000" stroke-width="1.7" />
<text x="382 385.8 392.05" y="319.6" font-size="10" text-anchor="middle" font-weight="bold">2.5</text>
<line x1="399" y1="500.88" x2="401.6" y2="500.88" stroke="#000" stroke-width="1.7" />
<line x1="399" y1="459.64" x2="401.6" y2="459.64" stroke="#000" stroke-width="1.7" />
<line x1="399" y1="418.4" x2="401.6" y2="418.4" stroke="#000" stroke-width="1.7" />
<line x1="399" y1="377.16" x2="401.6" y2="377.16" stroke="#000" stroke-width="1.7" />
<line x1="399" y1="335.92" x2="401.6" y2="335.92" stroke="#000" stroke-width="1.7" />
<line x1="399" y1="294.68" x2="401.6" y2="294.68" stroke="#000" stroke-width="1.7" />
<line x1="400.7" y1="521.5" x2="683.4" y2="521.5" stroke="#000" stroke-width="1.8" />
<line x1="437" y1="521.5" x2="437" y2="525.8" stroke="#000" stroke-width="1.7" />
<text x="437.3" y="537.6" font-size="10.3" text-anchor="middle" font-weight="normal" font-style="normal" fill="#000" stroke="#000" stroke-width="0.3">0</text>
<line x1="507.15" y1="521.5" x2="507.15" y2="525.8" stroke="#000" stroke-width="1.7" />
<text x="507.45" y="537.6" font-size="10.3" text-anchor="middle" font-weight="normal" font-style="normal" fill="#000" stroke="#000" stroke-width="0.3">6</text>
<line x1="577.3" y1="521.5" x2="577.3" y2="525.8" stroke="#000" stroke-width="1.7" />
<text x="577.6" y="537.6" font-size="10.3" text-anchor="middle" font-weight="normal" font-style="normal" fill="#000" stroke="#000" stroke-width="0.3">12</text>
<line x1="647.45" y1="521.5" x2="647.45" y2="525.8" stroke="#000" stroke-width="1.7" />
<text x="647.75" y="537.6" font-size="10.3" text-anchor="middle" font-weight="normal" font-style="normal" fill="#000" stroke="#000" stroke-width="0.3">24</text>
<line x1="472.07" y1="521.5" x2="472.07" y2="524.1" stroke="#000" stroke-width="1.7" />
<line x1="542.23" y1="521.5" x2="542.23" y2="524.1" stroke="#000" stroke-width="1.7" />
<line x1="612.38" y1="521.5" x2="612.38" y2="524.1" stroke="#000" stroke-width="1.7" />
<line x1="682.53" y1="521.5" x2="682.53" y2="524.1" stroke="#000" stroke-width="1.7" />
<text transform="scale(0.86,1)" x="602.71 609.24 615.65 625.47 632.29 645 651.88" y="553.1" font-size="12.5" text-anchor="middle" stroke="#000" stroke-width="0.25">Time(h)</text>
<text x="530.9" y="320" font-size="16" text-anchor="start" font-weight="normal" font-style="normal" fill="#000" textLength="30.4" lengthAdjust="spacingAndGlyphs" >42&#176;C</text>
<rect x="404.5" y="296.3" width="74.2" height="53.2" fill="#fff" stroke="#555" stroke-width="1" />
<rect x="407" y="299.1" width="21.9" height="9.7" fill="url(#p1)" stroke="#000" stroke-width="1.5" />
<rect x="407" y="311.6" width="21.9" height="9.5" fill="url(#p2)" stroke="#000" stroke-width="1.5" />
<rect x="407" y="324.2" width="21.9" height="9.6" fill="url(#p3)" stroke="#000" stroke-width="1.5" />
<rect x="407" y="336.8" width="21.9" height="10" fill="url(#p4)" stroke="#000" stroke-width="1.5" />
<clipPath id="lc4"><rect x="404.5" y="296.3" width="74.2" height="53.2"/></clipPath>
<g clip-path="url(#lc4)">
<text x="436.6" y="307.8" font-size="11.8" text-anchor="start" font-weight="normal" font-style="italic" fill="#000" textLength="17.5" lengthAdjust="spacingAndGlyphs" >GTP</text>
<text x="436.6" y="320.6" font-size="11.8" text-anchor="start" font-weight="normal" font-style="italic" fill="#000" textLength="16.5" lengthAdjust="spacingAndGlyphs" >IDH</text>
<text x="436.6" y="333.5" font-size="11.8" text-anchor="start" font-weight="normal" font-style="italic" fill="#000" textLength="43.5" lengthAdjust="spacingAndGlyphs" >GTP+IDH</text>
<text x="439.6" y="345.7" font-size="11.8" text-anchor="start" font-weight="normal" font-style="italic" fill="#000" textLength="25.5" lengthAdjust="spacingAndGlyphs" >&#945; TUB</text>
</g>
<text transform="translate(374.6,484.2) rotate(-90)" x="0" y="0" font-size="12.4" font-weight="bold" textLength="152.3" lengthAdjust="spacingAndGlyphs">Relative expression of the <tspan font-style="italic">POD</tspan></text>
</svg>
</body></html>
